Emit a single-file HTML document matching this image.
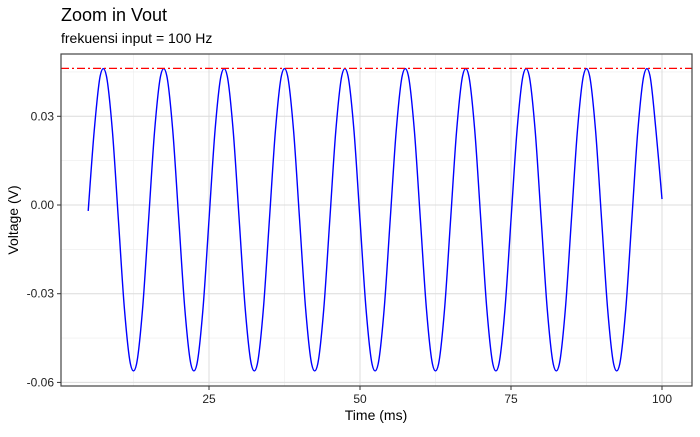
<!DOCTYPE html>
<html><head><meta charset="utf-8"><style>
body{margin:0;background:#fff;font-family:"Liberation Sans",sans-serif;}
svg text{font-family:"Liberation Sans",sans-serif;}
</style></head><body>
<svg id="chart" width="700" height="432" xmlns="http://www.w3.org/2000/svg">
<rect width="700" height="432" fill="#fff"/>
<text x="61" y="21" font-size="18" fill="#000">Zoom in Vout</text>
<text x="61" y="43" font-size="14" fill="#000">frekuensi input = 100 Hz</text>
<g id="grid"></g>
<g id="marks"></g>
<rect x="61" y="54" width="631" height="332" fill="none" stroke="#444" stroke-width="1.2"/>
<g id="axes"></g>
<text x="376" y="420" font-size="14" text-anchor="middle" fill="#000">Time (ms)</text>
<text transform="translate(18,220) rotate(-90)" font-size="14" text-anchor="middle" fill="#000">Voltage (V)</text>
</svg>
<script>
const xTicks=[25,50,75,100];
const xMinor=[12.5,37.5,62.5,87.5];
const yTicks=[0.03,0,-0.03,-0.06];
const yTickLabels=["0.03","0.00","-0.03","-0.06"];
const yMinor=[0.045,0.015,-0.015,-0.045];
const refLevel=0.0462;
const timeMs=[];
for(let t=5;t<=100;t++)timeMs.push(t);
const voltage=[-0.002,0.0252,0.0438,0.0438,0.0252,-0.005,-0.0352,-0.0538,-0.0538,-0.0352,
-0.005,0.0252,0.0438,0.0438,0.0252,-0.005,-0.0352,-0.0538,-0.0538,-0.0352,
-0.005,0.0252,0.0438,0.0438,0.0252,-0.005,-0.0352,-0.0538,-0.0538,-0.0352,
-0.005,0.0252,0.0438,0.0438,0.0252,-0.005,-0.0352,-0.0538,-0.0538,-0.0352,
-0.005,0.0252,0.0438,0.0438,0.0252,-0.005,-0.0352,-0.0538,-0.0538,-0.0352,
-0.005,0.0252,0.0438,0.0438,0.0252,-0.005,-0.0352,-0.0538,-0.0538,-0.0352,
-0.005,0.0252,0.0438,0.0438,0.0252,-0.005,-0.0352,-0.0538,-0.0538,-0.0352,
-0.005,0.0252,0.0438,0.0438,0.0252,-0.005,-0.0352,-0.0538,-0.0538,-0.0352,
-0.005,0.0252,0.0438,0.0438,0.0252,-0.005,-0.0352,-0.0538,-0.0538,-0.0352,
-0.005,0.0252,0.0438,0.0438,0.0252,0.002];
const NS="http://www.w3.org/2000/svg";
const L=61,R=692,T=54,B=386;
function xs(t){return 209+(t-25)*6.04;}
function ys(v){return 205-v*2957;}
function mk(tag,attrs,parent){const e=document.createElementNS(NS,tag);for(const k in attrs)e.setAttribute(k,attrs[k]);parent.appendChild(e);return e;}
const grid=document.getElementById('grid'),marks=document.getElementById('marks'),axes=document.getElementById('axes');
xMinor.forEach(t=>{const l=mk('line',{x1:xs(t),x2:xs(t),y1:T,y2:B,stroke:'#ececec','stroke-width':0.6},grid);

});
yMinor.forEach(v=>{const l=mk('line',{x1:L,x2:R,y1:ys(v),y2:ys(v),stroke:'#ececec','stroke-width':0.6},grid);

});
xTicks.forEach(t=>{const l=mk('line',{x1:xs(t),x2:xs(t),y1:T,y2:B,stroke:'#dcdcdc','stroke-width':1},grid);


const k=mk('line',{x1:xs(t),x2:xs(t),y1:B,y2:B+4,stroke:'#333','stroke-width':1},axes);


const tx=mk('text',{x:xs(t),y:B+17,'font-size':12,'text-anchor':'middle',fill:'#222'},axes);tx.textContent=t;

});
yTicks.forEach((v,i)=>{const l=mk('line',{x1:L,x2:R,y1:ys(v),y2:ys(v),stroke:'#dcdcdc','stroke-width':1},grid);


const k=mk('line',{x1:L-4,x2:L,y1:ys(v),y2:ys(v),stroke:'#333','stroke-width':1},axes);


const tx=mk('text',{x:L-7,y:ys(v)+4,'font-size':12,'text-anchor':'end',fill:'#222'},axes);tx.textContent=yTickLabels[i];

});
const P=timeMs.map((t,i)=>[xs(t),ys(voltage[i])]);
let d='M'+P[0][0].toFixed(2)+','+P[0][1].toFixed(2);
for(let i=0;i<P.length-1;i++){const p0=P[Math.max(0,i-1)],p1=P[i],p2=P[i+1],p3=P[Math.min(P.length-1,i+2)];
const c1=[p1[0]+(p2[0]-p0[0])/6,p1[1]+(p2[1]-p0[1])/6],c2=[p2[0]-(p3[0]-p1[0])/6,p2[1]-(p3[1]-p1[1])/6];
d+=' C'+c1.map(n=>n.toFixed(2))+' '+c2.map(n=>n.toFixed(2))+' '+p2.map(n=>n.toFixed(2));}
const line=mk('path',{d:d,fill:'none',stroke:'#0000ff','stroke-width':1.4},marks);


const ref=mk('line',{x1:L,x2:R,y1:ys(refLevel),y2:ys(refLevel),stroke:'#ff0000','stroke-width':1.2,'stroke-dasharray':'8,3,2,3'},marks);


</script>
</body></html>
